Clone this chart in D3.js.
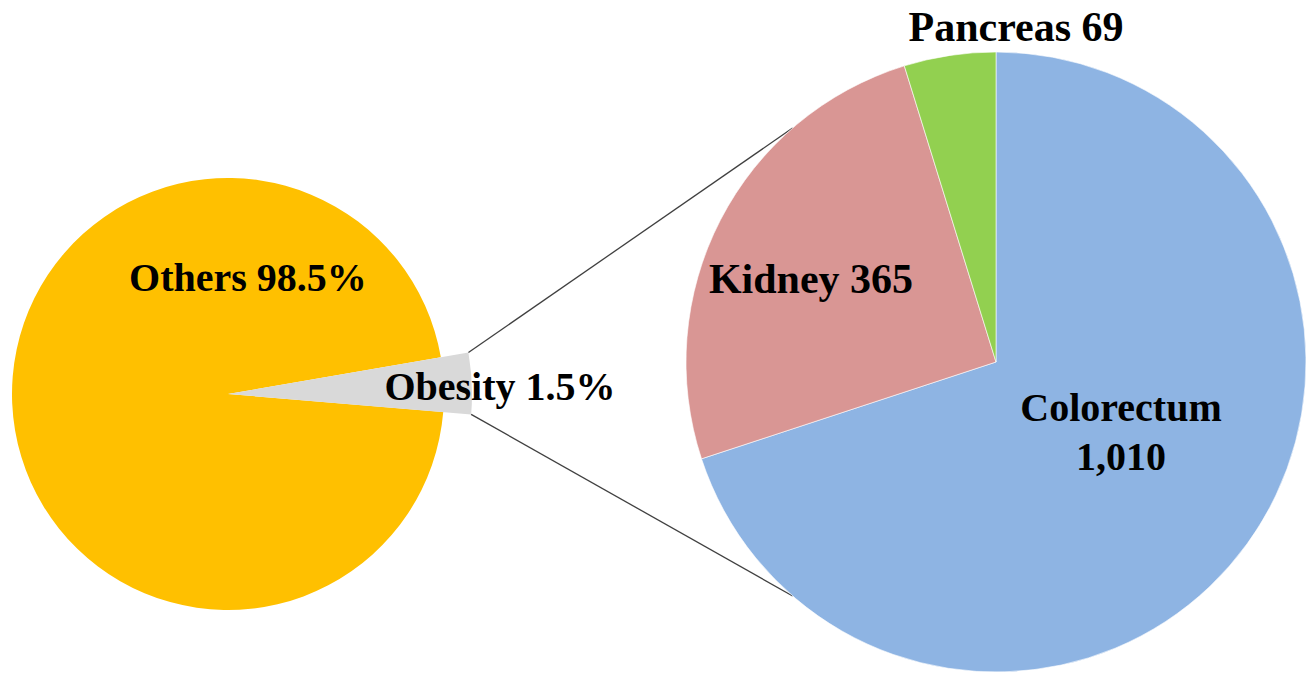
<!DOCTYPE html>
<html>
<head>
<meta charset="utf-8">
<script src="https://cdn.jsdelivr.net/npm/d3@7"></script>
<style>
  body { margin: 0; background: #fff; }
  text { font-family: "Liberation Serif", "Times New Roman", serif; font-weight: bold; fill: #000; }
</style>
</head>
<body>
<div id="chart"></div>
<script>
// primary pie: wedge sizes as drawn in the picture (the obesity wedge is drawn wider than its 1.5% label)
const mainNames = ["Obesity", "Others"];
const mainShares = [4.05, 95.95];
const mainLabels = ["Obesity 1.5%", "Others 98.5%"];
const mainColors = ["#d9d9d9", "#ffc000"];

// secondary pie: cancer cases attributed to obesity
const subNames = ["Colorectum", "Kidney", "Pancreas"];
const subValues = [1010, 365, 69];
const subLabels = [["Colorectum", "1,010"], ["Kidney 365"], ["Pancreas 69"]];
const subColors = ["#8eb4e3", "#d99694", "#92d050"];

const width = 1313, height = 676;
const left = { cx: 228, cy: 394, r: 216, rOut: 244, mid: 87.5 * Math.PI / 180 };
const right = { cx: 996, cy: 362, r: 310, tangent: 41 * Math.PI / 180 };

// label placement (centre x, baseline y of first line, font size)
const labelPos = {
  Obesity: [500, 400, 40], Others: [248, 291, 40],
  Colorectum: [1121, 421, 40], Kidney: [811, 293, 42], Pancreas: [1016, 41, 42]
};

const svg = d3.select("#chart").append("svg")
  .attr("width", width)
  .attr("height", height);

const onCircle = (c, r, a) => [c.cx + r * Math.sin(a), c.cy - r * Math.cos(a)];

// ---- left pie
const mainData = mainNames.map((n, i) => ({ name: n, value: mainShares[i], label: mainLabels[i], color: mainColors[i] }));
const obAngle = 2 * Math.PI * mainShares[0] / d3.sum(mainShares);
const mainPie = d3.pie().sort(null).value(d => d.value)
  .startAngle(left.mid - obAngle / 2)
  .endAngle(left.mid - obAngle / 2 + 2 * Math.PI);
const mainArcs = mainPie(mainData);
const mainArc = d3.arc().innerRadius(0)
  .outerRadius(d => d.data.name === "Obesity" ? left.rOut : left.r);

const gLeft = svg.append("g").attr("transform", `translate(${left.cx},${left.cy})`);
// others first, obesity wedge on top
gLeft.selectAll("path")
  .data(mainArcs.slice().reverse())
  .enter()
  .append("path")
  .attr("d", mainArc)
  .attr("fill", d => d.data.color);

// ---- connector lines
const ob = mainArcs[0];
const p1 = onCircle(left, left.rOut, ob.startAngle);
const p2 = onCircle(left, left.rOut, ob.endAngle);
const q1 = onCircle(right, right.r, -right.tangent);
const q2 = onCircle(right, right.r, Math.PI + right.tangent);
svg.selectAll("line.conn")
  .data([[p1, q1], [p2, q2]])
  .enter()
  .append("line")
  .attr("class", "conn")
  .attr("x1", d => d[0][0]).attr("y1", d => d[0][1])
  .attr("x2", d => d[1][0]).attr("y2", d => d[1][1])
  .attr("stroke", "#404040")
  .attr("stroke-width", 1.3);

// ---- right pie
const subData = subNames.map((n, i) => ({ name: n, value: subValues[i], label: subLabels[i], color: subColors[i] }));
const subPie = d3.pie().sort(null).value(d => d.value);
const subArc = d3.arc().innerRadius(0).outerRadius(right.r);
const gRight = svg.append("g").attr("transform", `translate(${right.cx},${right.cy})`);
gRight.selectAll("path")
  .data(subPie(subData))
  .enter()
  .append("path")
  .attr("d", subArc)
  .attr("fill", d => d.data.color)
  .attr("stroke", "#ffffff")
  .attr("stroke-width", 0.6);

// ---- labels
const allLabels = mainData.map(d => ({ name: d.name, lines: [d.label] }))
  .concat(subData.map(d => ({ name: d.name, lines: d.label })));
const lbl = svg.selectAll("text.lbl")
  .data(allLabels)
  .enter()
  .append("text")
  .attr("class", "lbl")
  .attr("text-anchor", "middle")
  .attr("font-size", d => labelPos[d.name][2])
  .attr("x", d => labelPos[d.name][0])
  .attr("y", d => labelPos[d.name][1]);
lbl.selectAll("tspan")
  .data(d => d.lines.map(t => ({ t, x: labelPos[d.name][0] })))
  .enter()
  .append("tspan")
  .attr("x", d => d.x)
  .attr("dy", (d, i) => i === 0 ? 0 : 49)
  .text(d => d.t);
</script>
</body>
</html>
